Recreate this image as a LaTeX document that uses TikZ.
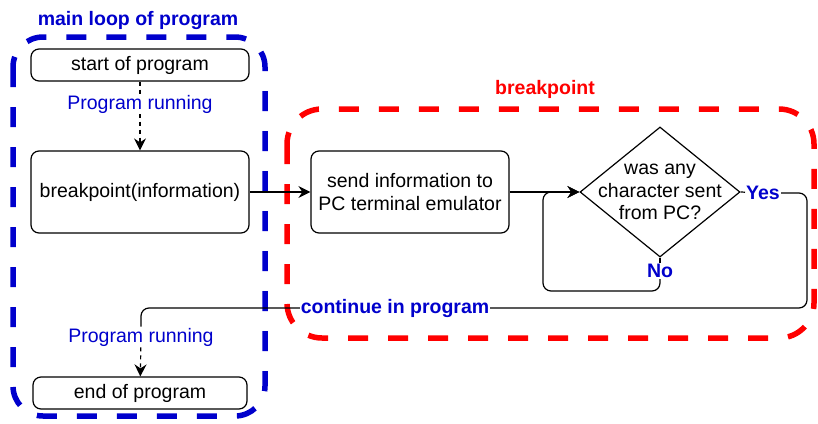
\documentclass[tikz,border=0pt]{standalone}
\usepackage{fontspec}
\setmainfont{Liberation Sans}
\usetikzlibrary{arrows.meta,shapes.geometric,positioning}

\definecolor{loopblue}{HTML}{0000CC}
\definecolor{bpred}{HTML}{FF0000}

\begin{document}
\begin{tikzpicture}[x=1pt,y=1pt,
  every node/.style={font=\fontsize{19.5}{22.5}\selectfont},
  box/.style={draw,rounded corners=8pt,line width=1.2pt,align=center,inner sep=0pt},
  decision/.style={draw,diamond,line width=1.2pt,inner sep=0pt,minimum width=160pt,minimum height=130pt},
  flow/.style={line width=1.2pt},
  tip/.style={-{Stealth[length=12pt,width=12pt,inset=4pt]}},
  runlbl/.style={text=loopblue,fill=white,inner sep=1pt},
  bluelbl/.style={text=loopblue,font=\fontsize{19.5}{22.5}\selectfont\bfseries,fill=white,inner sep=1pt},
  frame/.style={line width=5.5pt,dash pattern=on 20pt off 20pt}]
\useasboundingbox (0,0) rectangle (818,-423);

% frames
\draw[frame,loopblue,rounded corners=30pt] (13,-37) rectangle (265,-416);
\draw[frame,bpred,rounded corners=35pt] (287,-109) rectangle (814,-338);
\node[text=loopblue,font=\fontsize{19.5}{22.5}\selectfont\bfseries] (looptitle) at (138,-21) {main loop of program};
\node[text=bpred,font=\fontsize{19.5}{22.5}\selectfont\bfseries] (bptitle) at (545,-89) {breakpoint};

% nodes
\node[box,minimum width=218pt,minimum height=32pt,fill=white] (start) at (140,-65) {start of program};
\node[box,minimum width=218pt,minimum height=82pt,fill=white] (bp) [below of=start,node distance=127pt] {breakpoint(information)};
\node[box,minimum width=198pt,minimum height=82pt,fill=white] (send) [right of=bp,node distance=270pt] {send information to\\PC terminal emulator};
\node[decision,fill=white] (ask) [right of=send,node distance=250pt] {};
\node[align=center] (asktext) at (ask) {was any\\character sent\\from PC?};
\node[box,minimum width=214pt,minimum height=32pt,fill=white] (endp) [below of=bp,node distance=201pt] {end of program};
\node[bluelbl] (yes) at (763,-193) {Yes};
\node[bluelbl] (no) at (660,-271) {No};
\node[runlbl] (run2) at (141,-337) {Program running};

% connectors
\draw[flow,tip,dash pattern=on 4pt off 4pt] (start) -- node[runlbl,pos=0.33] {Program running} (bp);
\draw[flow,tip] (bp) -- (send);
\draw[flow,tip] (send) -- (ask.west);
\draw[flow] (ask.east) -- (yes);
\draw[flow] (ask.south) -- (no);
\draw[flow,tip,rounded corners=8pt] (no.south) -- (660,-291) -- (543,-291) -- (543,-192) -- (ask.west);
\draw[flow,rounded corners=8pt] (yes.east) -- (807,-193) -- (807,-308) -- (141,-308) -- (run2.north);
\draw[flow,tip,dash pattern=on 4pt off 4pt] (run2) -- (endp);
\node[bluelbl] (cont) at (395,-308) {continue in program};
\end{tikzpicture}
\end{document}
